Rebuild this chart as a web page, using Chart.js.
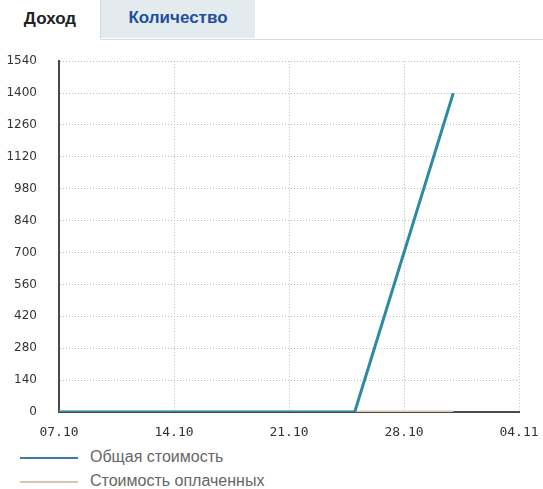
<!DOCTYPE html>
<html><head><meta charset="utf-8">
<script src="https://cdn.jsdelivr.net/npm/chart.js@4/dist/chart.umd.min.js"></script>
<style>
html,body{margin:0;padding:0;background:#fff;width:543px;height:489px;overflow:hidden;font-family:Arial,"Liberation Sans",sans-serif}
#tabs{position:absolute;left:0;top:0;width:543px;height:40px;z-index:2}
.tab{position:absolute;top:0;height:39px;line-height:38px;font-weight:bold;font-size:17px;}
#t1{left:0;width:100px;text-align:center;color:#222;border-right:1px solid #d6d6d6;background:#fff;}
#t2{left:101px;width:154px;height:38px;text-align:center;color:#1f4f9c;background:#e3ebee;line-height:36px}
#tabline{position:absolute;left:101px;top:39px;width:442px;height:1px;background:#d8dcdf}
#wrap{position:absolute;left:0;top:32px;width:543px;height:414px;z-index:1}
#legend{position:absolute;left:20px;top:446px;font-size:16px;color:#666}
.li{height:24px;line-height:22px;position:relative}
.li span.ln{position:absolute;left:0;top:11px;width:58px;height:2px}
.li span.tx{position:absolute;left:70px;white-space:nowrap}
</style></head><body>
<div id="tabs"><div class="tab" id="t1">Доход</div><div class="tab" id="t2">Количество</div><div id="tabline"></div></div>
<div id="wrap"><canvas id="c" width="543" height="414"></canvas></div>
<div id="legend"></div>
<script>
const tickLabels = ['07.10','14.10','21.10','28.10','04.11'];
const dayOffsets = [0,1,2,3,4,5,6,7,8,9,10,11,12,13,14,15,16,17,18,24];
const totalCost = [0,0,0,0,0,0,0,0,0,0,0,0,0,0,0,0,0,0,0,1400];
const paidCost  = [0,0,0,0,0,0,0,0,0,0,0,0,0,0,0,0,0,0,0,0];
const seriesNames = ['Общая стоимость','Стоимость оплаченных'];
const seriesColors = ['#2e8aa3','#dccbb6'];
const legendColors = ['#3d7f99','#d8c5b0'];

const mk = arr => dayOffsets.map((d,i)=>({x:d,y:arr[i]}));
const ds = [
  {label:seriesNames[1],data:mk(paidCost),borderColor:seriesColors[1],borderWidth:3,pointRadius:0,tension:0,order:2},
  {label:seriesNames[0],data:mk(totalCost),borderColor:seriesColors[0],borderWidth:3,pointRadius:0,tension:0,order:1}
];
new Chart(document.getElementById('c'),{
  type:'line',
  data:{datasets:ds},
  options:{
    responsive:false,animation:false,
    layout:{padding:{top:13,right:24,left:0,bottom:0}},
    plugins:{legend:{display:false},tooltip:{enabled:false}},
    scales:{
      x:{type:'linear',min:0,max:28,
        afterBuildTicks:s=>{s.ticks=tickLabels.map((_,i)=>({value:i*7}));},
        afterFit:s=>{s.height=34;s.paddingLeft=0;s.paddingRight=0;},
        ticks:{callback:(v)=>tickLabels[v/7],color:'#333',font:{family:'DejaVu Sans Mono',size:13},padding:13,maxRotation:0,autoSkip:false},
        grid:{color:'#bdbdbd',lineWidth:1,drawTicks:false,tickLength:0},
        border:{display:true,color:'#4a4a4a',width:2,dash:[1,2]}
      },
      y:{min:0,max:1540,
        afterBuildTicks:s=>{const t=[];for(let v=0;v<=1540;v+=140)t.push({value:v});s.ticks=t;},
        afterFit:s=>{s.width=59;},
        ticks:{callback:(v)=>String(v),color:'#333',font:{family:'DejaVu Sans',size:12},padding:22},
        grid:{color:'#bdbdbd',lineWidth:1,drawTicks:false,tickLength:0},
        border:{display:true,color:'#4a4a4a',width:2,dash:[1,2]}
      }
    }
  }
});
const lg=document.getElementById('legend');
seriesNames.forEach((n,i)=>{const d=document.createElement('div');d.className='li';d.innerHTML='<span class="ln" style="background:'+legendColors[i]+'"></span><span class="tx">'+n+'</span>';lg.appendChild(d);});
</script>
</body></html>
